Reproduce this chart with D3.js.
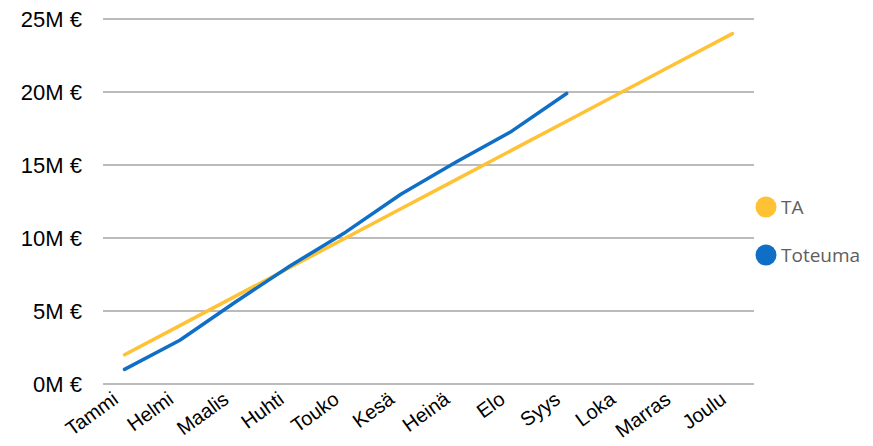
<!DOCTYPE html>
<html>
<head>
<meta charset="utf-8">
<script src="https://cdn.jsdelivr.net/npm/d3@7"></script>
<style>
  body { margin: 0; background: #fff; }
  svg { display: block; }
</style>
</head>
<body>
<svg id="chart"></svg>
<script>
const months = ['Tammi', 'Helmi', 'Maalis', 'Huhti', 'Touko', 'Kesä', 'Heinä', 'Elo', 'Syys', 'Loka', 'Marras', 'Joulu']
const ta = [2, 4, 6, 8, 10, 12, 14, 16, 18, 20, 22, 24]
const toteuma = [1.0, 3.0, 5.6, 8.1, 10.4, 13.0, 15.2, 17.3, 19.9]
const yTicks = [0, 5, 10, 15, 20, 25]
const seriesNames = ['TA', 'Toteuma']
const colors = ['#ffc234', '#0f6fc6']

const width = 873
const height = 446
const margin = { top: 19, right: 119, bottom: 62, left: 103 }

const svg = d3.select('#chart')
  .attr('width', width)
  .attr('height', height)

const x = d3.scalePoint()
  .domain(months)
  .range([margin.left, width - margin.right])
  .padding(0.39)

const y = d3.scaleLinear()
  .domain([0, 25])
  .range([height - margin.bottom, margin.top])

// gridlines
svg.append('g')
  .selectAll('line')
  .data(yTicks)
  .enter()
  .append('line')
  .attr('x1', margin.left)
  .attr('x2', width - margin.right)
  .attr('y1', d => y(d))
  .attr('y2', d => y(d))
  .attr('stroke', '#a5a5a5')
  .attr('stroke-width', 1.5)

// y labels
svg.append('g')
  .selectAll('text')
  .data(yTicks)
  .enter()
  .append('text')
  .attr('x', 82)
  .attr('y', d => y(d))
  .attr('dy', '0.35em')
  .attr('text-anchor', 'end')
  .attr('fill', '#000')
  .style('font-family', '"Liberation Sans", Arial, sans-serif')
  .style('font-size', '22px')
  .text(d => d + 'M €')

// x labels
svg.append('g')
  .selectAll('text')
  .data(months)
  .enter()
  .append('text')
  .attr('text-anchor', 'end')
  .attr('transform', d => `translate(${x(d) - 5},${height - margin.bottom + 18}) rotate(-36)`)
  .attr('fill', '#000')
  .style('font-family', '"Liberation Sans", Arial, sans-serif')
  .style('font-size', '20px')
  .text(d => d)

// lines
const line = d3.line()
  .x((d, i) => x(months[i]))
  .y(d => y(d))

;[ta, toteuma].forEach((vals, i) => {
  svg.append('path')
    .datum(vals)
    .attr('d', line)
    .attr('fill', 'none')
    .attr('stroke', colors[i])
    .attr('stroke-width', 3.5)
    .attr('stroke-linecap', 'round')
    .attr('stroke-linejoin', 'round')
})

// legend
const legend = svg.append('g')
  .selectAll('g')
  .data(seriesNames)
  .enter()
  .append('g')
  .attr('transform', (d, i) => `translate(766,${207 + i * 48})`)

legend.append('circle')
  .attr('r', 10.5)
  .attr('fill', (d, i) => colors[i])

legend.append('text')
  .attr('x', 15)
  .attr('dy', '0.35em')
  .attr('fill', '#605e5c')
  .style('font-family', '"Open Sans", sans-serif')
  .style('font-size', '19px')
  .text(d => d)
</script>
</body>
</html>
